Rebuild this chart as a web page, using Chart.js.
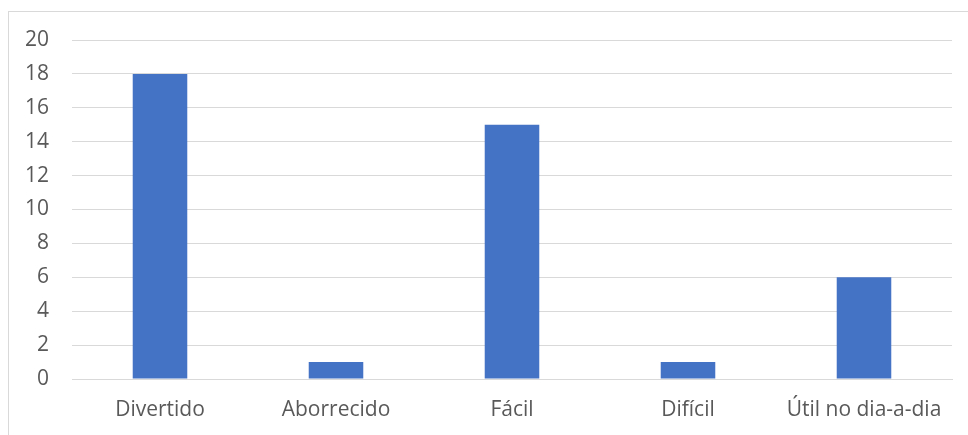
<!DOCTYPE html>
<html>
<head>
<meta charset="utf-8">
<script src="https://cdn.jsdelivr.net/npm/chart.js@4/dist/chart.umd.min.js"></script>
<style>
html,body{margin:0;padding:0;background:#fff;overflow:hidden;width:968px;height:435px;}
#frame{position:absolute;left:8px;top:11px;width:1200px;height:1200px;border:1px solid #d9d9d9;box-sizing:border-box;}
#wrap{position:absolute;left:0;top:0;width:968px;height:435px;}
</style>
</head>
<body>
<div id="frame"></div>
<div id="wrap"><canvas id="c" width="968" height="435"></canvas></div>
<script>
const categories = ["Divertido", "Aborrecido", "Fácil", "Difícil", "Útil no dia-a-dia"];
const values = [18, 1, 15, 1, 6];
const yTicks = [0, 2, 4, 6, 8, 10, 12, 14, 16, 18, 20];

new Chart(document.getElementById('c'), {
  type: 'bar',
  data: {
    labels: categories,
    datasets: [{
      data: values,
      backgroundColor: '#4472C4',
      borderWidth: 0,
      categoryPercentage: 1,
      barPercentage: 0.31
    }]
  },
  options: {
    responsive: false,
    animation: false,
    devicePixelRatio: 1,
    layout: { padding: { left: 0, right: 16, top: 40, bottom: 0 } },
    plugins: { legend: { display: false }, tooltip: { enabled: false } },
    scales: {
      x: {
        grid: { display: false, drawTicks: false },
        border: { display: true, color: '#d9d9d9', width: 1 },
        ticks: { color: '#595959', font: { family: 'Open Sans', size: 21 }, padding: 18, maxRotation: 0 },
        afterFit: s => { s.height = 56; }
      },
      y: {
        min: 0, max: 20,
        afterBuildTicks: s => { s.ticks = yTicks.map(v => ({ value: v })); },
        grid: { color: '#d9d9d9', lineWidth: 1, drawTicks: false },
        border: { display: false },
        ticks: { color: '#595959', font: { family: 'Open Sans', size: 21 }, padding: 23 },
        afterFit: s => { s.width = 72; }
      }
    }
  }
});
</script>
</body>
</html>
